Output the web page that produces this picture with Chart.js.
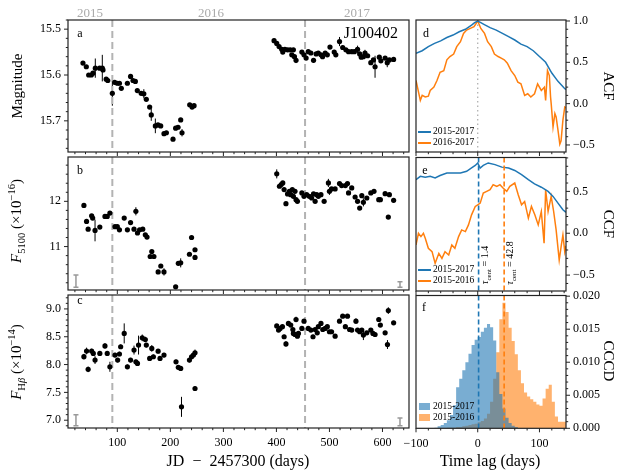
<!DOCTYPE html>
<html>
<head>
<meta charset="utf-8">
<script src="https://cdn.jsdelivr.net/npm/chart.js@4.4.1/dist/chart.umd.min.js"></script>
<style>
  body { margin: 0; background: #fff; font-family: "Liberation Serif", serif; }
  #page { position: relative; width: 622px; height: 476px; overflow: hidden; }
  #page canvas { position: absolute; left: 0; top: 0; }
  .t { position: absolute; white-space: nowrap; line-height: 1; color: #000; }
  .c { transform: translate(-50%, -50%); }
  .up { transform: translate(-50%, -50%) rotate(-90deg); }
  .down { transform: translate(-50%, -50%) rotate(90deg); }
  sub, sup { font-size: 70%; line-height: 0; }
  .leg { position: absolute; font-size: 9.5px; line-height: 1; white-space: nowrap; }
  .leg i { display: inline-block; width: 13px; height: 1.6px; vertical-align: middle; margin-right: 2px; }
  .leg b { display: inline-block; width: 11px; height: 7px; vertical-align: middle; margin-right: 3px; }
</style>
</head>
<body>
<div id="page">
  <canvas id="pa" width="622" height="476"></canvas>
  <canvas id="pb" width="622" height="476"></canvas>
  <canvas id="pc" width="622" height="476"></canvas>
  <canvas id="pd" width="622" height="476"></canvas>
  <canvas id="pe" width="622" height="476"></canvas>
  <canvas id="pf" width="622" height="476"></canvas>

  <div class="t c" style="left:90px;top:12px;font-size:13px;color:#aaa">2015</div>
  <div class="t c" style="left:211px;top:12px;font-size:13px;color:#aaa">2016</div>
  <div class="t c" style="left:357px;top:12px;font-size:13px;color:#aaa">2017</div>

  <div class="t c" style="left:80px;top:33px;font-size:12px">a</div>
  <div class="t c" style="left:80px;top:170px;font-size:12px">b</div>
  <div class="t c" style="left:80px;top:300px;font-size:12px">c</div>
  <div class="t c" style="left:426px;top:33px;font-size:12px">d</div>
  <div class="t c" style="left:425px;top:170px;font-size:12px">e</div>
  <div class="t c" style="left:424px;top:307px;font-size:12px">f</div>
  <div class="t" style="right:224px;top:25px;font-size:16px">J100402</div>

  <div class="t up" style="left:17px;top:86px;font-size:15px">Magnitude</div>
  <div class="t up" style="left:16px;top:221px;font-size:15px"><i>F</i><sub>5100</sub> (×10<sup>−16</sup>)</div>
  <div class="t up" style="left:16px;top:362px;font-size:15px"><i>F</i><sub>H<i>β</i></sub> (×10<sup>−14</sup>)</div>
  <div class="t down" style="left:608px;top:86px;font-size:15px">ACF</div>
  <div class="t down" style="left:608px;top:224px;font-size:15px">CCF</div>
  <div class="t down" style="left:608px;top:361px;font-size:15px">CCCD</div>
  <div class="t c" style="left:238px;top:461px;font-size:16px">JD &nbsp;−&nbsp; 2457300 (days)</div>
  <div class="t c" style="left:490px;top:461px;font-size:16px">Time lag (days)</div>

  <div class="t up" style="left:485px;top:265px;font-size:10px"><i>τ</i><sub>cent</sub> = 1.4</div>
  <div class="t up" style="left:510px;top:263px;font-size:10px"><i>τ</i><sub>cent</sub> = 42.8</div>

  <div class="leg" style="left:418px;top:127px"><i style="background:#1f77b4"></i>2015-2017</div>
  <div class="leg" style="left:418px;top:138px"><i style="background:#ff7f0e"></i>2016-2017</div>
  <div class="leg" style="left:418px;top:265px"><i style="background:#1f77b4"></i>2015-2017</div>
  <div class="leg" style="left:418px;top:276px"><i style="background:#ff7f0e"></i>2015-2016</div>
  <div class="leg" style="left:419px;top:402px"><b style="background:rgba(31,119,180,0.6)"></b>2015-2017</div>
  <div class="leg" style="left:419px;top:413px"><b style="background:rgba(255,127,14,0.6)"></b>2015-2016</div>
</div>
<script>
// ---- panel a: photometric magnitude ----
const magDays15 = [35.2,41.5,46,51,54,58.5,66.7,71.7,73,79,82,90.6,95,100,104,107.5,119,125,129.6,134,137.7,145,150,154.7,161,164,171.7,176.7,181.8,188,192.5,205,210,214.5,219.5,222,236.5,241,244.7];
const mag15 = [15.574,15.582,15.600,15.600,15.596,15.585,15.585,15.585,15.589,15.609,15.612,15.640,15.616,15.618,15.618,15.629,15.618,15.603,15.612,15.614,15.634,15.640,15.641,15.653,15.670,15.687,15.711,15.709,15.711,15.728,15.726,15.740,15.716,15.714,15.698,15.726,15.665,15.670,15.667];
const magErr15 = [.004,.004,.004,.004,.004,.021,.004,.029,.004,.004,.004,.027,.004,.004,.004,.004,.004,.004,.004,.004,.004,.004,.010,.004,.004,.013,.016,.004,.004,.004,.004,.004,.004,.004,.004,.008,.004,.004,.004];
const magDays16 = [395.6,400.6,405,410,412,416,421,426,429,432,434,437,448,452,456,460,465,470,475,479,484,487,492,496,501,509,512,519,525,531,536,542,547,553,557,560,564,567,572,578,583,586,594,597,605,609,613,621];
const mag16 = [15.525,15.531,15.538,15.544,15.550,15.544,15.545,15.545,15.556,15.545,15.560,15.568,15.550,15.556,15.563,15.549,15.552,15.568,15.554,15.552,15.556,15.560,15.552,15.556,15.539,15.550,15.556,15.527,15.540,15.545,15.549,15.549,15.549,15.544,15.554,15.561,15.560,15.552,15.558,15.573,15.567,15.582,15.561,15.569,15.563,15.573,15.567,15.566];
const magErr16 = [.004,.004,.004,.004,.004,.004,.004,.004,.004,.004,.004,.006,.004,.004,.004,.004,.004,.005,.004,.004,.004,.004,.004,.004,.004,.004,.004,.010,.004,.004,.004,.004,.004,.008,.004,.004,.004,.007,.004,.004,.004,.024,.004,.004,.004,.010,.004,.004];

// ---- panel b: 5100 continuum ----
const contDays15 = [37,42,45,51.6,53.5,58,67,76.7,81,86,95.6,100,104,113,119,125,131.5,135,138,142,148,152.8,156,162,165,169,177,182,188,210,215,219.5,236,240,246.5,246.5];
const cont15 = [11.91,11.556,11.385,11.68,11.63,11.356,11.43,11.667,11.667,11.74,11.44,11.44,11.37,11.63,11.37,11.53,11.385,11.78,11.30,11.37,11.385,11.26,11.21,10.78,10.89,10.78,10.44,10.57,10.44,10.11,10.63,10.64,10.83,11.20,10.93,10.76];
const contErr15 = [.035,.035,.035,.035,.035,.24,.035,.035,.035,.035,.035,.035,.035,.035,.035,.035,.035,.09,.035,.035,.035,.035,.035,.035,.035,.035,.035,.035,.08,.035,.05,.10,.035,.035,.035,.035];
const contDays16 = [400.6,405.7,409,412,414.5,418,421,424.5,427,430,432,435,437,439.6,448,452,457,462,466.5,470,473,476,479,484,490,498,500,504,510.7,519,523,530,534,536,542,548.4,553,557,561,564,570.4,578,584,593,596,605,611,613,621];
const cont16 = [12.607,12.333,12.37,12.407,12.26,11.948,12.163,12.222,12.148,12.26,12.11,12.222,12.037,12.0,12.185,12.11,12.148,12.11,12.074,12.163,12.0,12.148,12.11,12.148,12.0,12.407,12.222,12.274,12.274,12.393,12.348,12.348,12.393,12.185,12.296,12.096,12.0,11.85,12.126,11.978,12.074,12.185,12.222,12.037,12.037,12.17,11.652,12.148,12.022];
const contErr16 = [.10,.035,.035,.035,.035,.035,.035,.035,.035,.035,.035,.035,.035,.035,.035,.035,.035,.035,.035,.035,.035,.035,.035,.035,.035,.09,.08,.035,.035,.035,.035,.035,.035,.035,.035,.035,.035,.035,.035,.09,.035,.035,.035,.035,.035,.035,.035,.035,.035];
const contSysDays = [22, 633];
const contSys = [10.235, 10.16];
const contSysErr = [0.135, 0.06];

// ---- panel c: H-beta ----
const hbDays15 = [37,42,45,51.6,54.7,58,67,76.7,81,86,95.6,100.6,104,106.3,113,119,125,131.5,135,138,140,147,152.8,154.7,161,165,168,177,180.5,188,210.7,215,219.5,221,236,240,243.4,246.5,246.5];
const hb15 = [8.142,8.244,7.914,8.244,8.20,8.08,8.20,8.334,8.20,7.96,8.17,8.08,8.19,8.32,8.56,7.96,8.08,8.26,8.05,8.02,8.35,8.48,8.45,8.35,8.11,8.29,8.14,8.24,8.11,8.17,8.05,7.95,7.93,7.24,8.08,8.14,8.17,8.21,7.57];
const hbErr15 = [.05,.06,.05,.04,.04,.07,.04,.05,.04,.09,.04,.04,.04,.04,.18,.04,.04,.08,.04,.04,.17,.06,.05,.04,.04,.06,.04,.04,.04,.04,.04,.04,.04,.18,.04,.04,.04,.06,.04];
const hbDays16 = [400.6,404,407,411.3,414.5,418,422.6,427,431,432,435,437,439.6,441.5,448,452,460,465,469,473,477,479,484,487.4,492,496,500,504,510.7,519,525,530,534,538,542,550,553,557,561,564,570.4,578,582,586,593,596,605,609.4,611,621];
const hb16 = [8.694,8.62,8.65,8.68,8.50,8.37,8.74,8.71,8.63,8.56,8.54,8.81,8.51,8.56,8.65,8.78,8.65,8.62,8.50,8.63,8.57,8.68,8.74,8.63,8.65,8.68,8.59,8.59,8.51,8.78,8.87,8.68,8.87,8.63,8.62,8.78,8.62,8.59,8.62,8.53,8.57,8.62,8.56,8.54,8.81,8.71,8.57,8.36,8.97,8.75];
const hbErr16 = [.035,.035,.035,.035,.035,.05,.035,.035,.035,.035,.035,.05,.035,.035,.035,.035,.035,.035,.035,.035,.035,.035,.035,.035,.035,.035,.035,.035,.035,.035,.035,.035,.035,.035,.035,.05,.035,.035,.035,.09,.035,.035,.035,.035,.035,.035,.035,.08,.06,.035];
const hbSysDays = [22, 633];
const hbSys = [7.0, 6.97];
const hbSysErr = [0.10, 0.07];

const seasonCuts = [90.6, 454];

// ---- panel d: ACF ----
const acfLag1517 = [-100,-90,-80,-70,-60,-50,-40,-30,-20,-10,-5,0,5,10,20,30,40,50,60,70,80,90,100,110,120,130,140,143];
const acf1517 = [0.61,0.64,0.69,0.73,0.76,0.80,0.83,0.87,0.90,0.95,0.98,1.0,0.98,0.96,0.92,0.89,0.85,0.81,0.77,0.72,0.69,0.64,0.57,0.50,0.37,0.27,0.19,0.17];
const acfLag1617 = [-100,-93,-90,-85,-80,-77,-71,-66,-61,-55,-50,-45,-39,-34,-28,-23,-18,-12,-6,0,5,11,16,22,27,33,38,43,48,54,60,65,70,76,81,86,92,97,103,108,110,113,116,118,119,122,125,127,130,133,135,138,141,143];
const acf1617 = [0.28,0.04,0.10,0.08,0.09,0.16,0.20,0.28,0.38,0.40,0.53,0.57,0.60,0.69,0.75,0.85,0.89,0.91,0.93,1.0,0.91,0.85,0.75,0.69,0.60,0.57,0.55,0.53,0.49,0.40,0.34,0.26,0.24,0.10,0.12,0.08,0.12,0.24,0.16,0.20,0.04,0.40,0.34,0.08,0.0,-0.28,-0.12,-0.16,-0.32,-0.49,-0.45,-0.20,-0.04,-0.05];

// ---- panel e: CCF ----
const ccfLag1517 = [-100,-93,-85,-77,-69,-61,-50,-39,-28,-18,-10,-4,0,4,9,17,28,39,50,60,71,82,92,103,114,122,130,138,143];
const ccf1517 = [0.64,0.68,0.67,0.68,0.66,0.69,0.72,0.72,0.72,0.74,0.78,0.81,0.84,0.78,0.81,0.84,0.82,0.79,0.78,0.75,0.70,0.64,0.59,0.55,0.50,0.44,0.36,0.28,0.25];
const ccfLag1516 = [-100,-96,-92,-88,-85,-80,-74,-69,-63,-58,-53,-47,-42,-37,-31,-26,-20,-15,-10,-4,0,4,9,14.5,20,25,31,36,41,47,52,60,65.6,71,76,82,87,92.5,98,103,107.5,110,114,119,123,127,132,135.5,138,141,143];
const ccf1516 = [-0.14,0.0,-0.04,0.0,-0.06,-0.18,-0.22,-0.36,-0.24,-0.30,-0.22,-0.26,-0.14,-0.18,-0.04,0.04,0.02,0.10,0.22,0.32,0.34,0.36,0.48,0.50,0.52,0.58,0.56,0.58,0.54,0.50,0.56,0.60,0.46,0.34,0.38,0.18,0.32,0.22,0.10,0.26,-0.12,0.52,0.26,0.44,0.26,0.04,-0.32,-0.14,-0.02,-0.22,-0.15];
const tauCent = [1.4, 42.8];

// ---- panel f: CCCD histograms (bin centres, 5-day bins) ----
const lagBins = [-72.5,-67.5,-62.5,-57.5,-52.5,-47.5,-42.5,-37.5,-32.5,-27.5,-22.5,-17.5,-12.5,-7.5,-2.5,2.5,7.5,12.5,17.5,22.5,27.5,32.5,37.5,42.5,47.5,52.5,57.5,62.5,67.5,72.5,77.5,82.5,87.5,92.5,97.5,102.5,107.5,112.5,117.5,122.5,127.5,132.5,137.5,142.5,147.5];
const cccd1517 = [0,0.0001,0.0003,0.0005,0.0008,0.0012,0.0020,0.0035,0.0062,0.0075,0.0088,0.0100,0.0113,0.0126,0.0134,0.0138,0.0146,0.0152,0.0158,0.0153,0.0133,0.0085,0.0052,0.0030,0.0016,0.0008,0.0004,0.0002,0,0,0,0,0,0,0,0,0,0,0,0,0,0,0,0,0];
const cccd1516 = [0,0,0,0,0,0.0001,0.0001,0.0001,0.0002,0.0002,0.0003,0.0004,0.0005,0.0006,0.0007,0.0009,0.0011,0.0015,0.0022,0.0040,0.0075,0.0115,0.0165,0.0190,0.0176,0.0152,0.0132,0.0112,0.0088,0.0068,0.0054,0.0048,0.0044,0.0040,0.0036,0.0034,0.0045,0.0060,0.0066,0.0040,0.0018,0.0010,0.0010,0.0010,0.0010];

const BLUE = '#1f77b4', ORANGE = '#ff7f0e';
const FONT = { family: 'Liberation Serif', size: 12 };

function pts(xs, ys) { return xs.map((x, i) => ({ x, y: ys[i] })); }
const fmt0 = v => v.toFixed(0).replace('-', '\u2212');
const fmt1 = v => v.toFixed(1).replace('-', '\u2212');
const fmt3 = v => v.toFixed(3);

// per-panel extras (ticks, reference lines), looked up by canvas id
const extras = {};

function minorValues(min, max, step, majors) {
  const out = [];
  for (let k = Math.ceil(min / step - 1e-9); k * step <= max + 1e-12; k++) {
    const v = k * step;
    if (!majors.some(m => Math.abs(m - v) < step / 10)) out.push(v);
  }
  return out;
}

// vertical error bars from dataset.errors
const errorBars = {
  id: 'errorBars',
  beforeDatasetsDraw(chart) {
    const { ctx } = chart;
    const xs = chart.scales.x, ys = chart.scales.y;
    chart.data.datasets.forEach(ds => {
      if (!ds.errors) return;
      ctx.save();
      ctx.strokeStyle = ds.errorColor || '#000';
      ctx.lineWidth = ds.errorWidth || 1;
      ctx.beginPath();
      ds.data.forEach((p, j) => {
        const px = xs.getPixelForValue(p.x);
        const y1 = ys.getPixelForValue(p.y - ds.errors[j]);
        const y2 = ys.getPixelForValue(p.y + ds.errors[j]);
        ctx.moveTo(px, y1); ctx.lineTo(px, y2);
        if (ds.cap) {
          ctx.moveTo(px - ds.cap, y1); ctx.lineTo(px + ds.cap, y1);
          ctx.moveTo(px - ds.cap, y2); ctx.lineTo(px + ds.cap, y2);
        }
      });
      ctx.stroke();
      ctx.restore();
    });
  }
};

function drawVLines(chart, lines) {
  const { ctx, chartArea: a } = chart;
  const xs = chart.scales.x;
  lines.forEach(l => {
    const p = xs.getPixelForValue(l.x);
    ctx.save();
    ctx.strokeStyle = l.color;
    ctx.lineWidth = l.width;
    ctx.setLineDash(l.dash);
    ctx.beginPath(); ctx.moveTo(p, a.top); ctx.lineTo(p, a.bottom); ctx.stroke();
    ctx.restore();
  });
}

const vLines = {
  id: 'vLines',
  beforeDatasetsDraw(chart) {
    const e = extras[chart.canvas.id];
    if (e.lines) drawVLines(chart, e.lines.filter(l => !l.front));
  },
  afterDatasetsDraw(chart) {
    const e = extras[chart.canvas.id];
    if (e.lines) drawVLines(chart, e.lines.filter(l => l.front));
  }
};

// frame plus outward major/minor ticks
const frameTicks = {
  id: 'frameTicks',
  afterDraw(chart) {
    const o = extras[chart.canvas.id];
    const { ctx, chartArea: a } = chart;
    const xs = chart.scales.x, ys = chart.scales.y;
    const side = o.ySide === 'right' ? a.right : a.left;
    const dir = o.ySide === 'right' ? 1 : -1;
    ctx.save();
    ctx.strokeStyle = '#222';
    ctx.lineWidth = 1;
    ctx.beginPath();
    const xt = (v, len) => { const p = xs.getPixelForValue(v); ctx.moveTo(p, a.bottom); ctx.lineTo(p, a.bottom + len); };
    const yt = (v, len) => { const p = ys.getPixelForValue(v); ctx.moveTo(side, p); ctx.lineTo(side + dir * len, p); };
    o.xMajor.forEach(v => xt(v, 4));
    minorValues(xs.min, xs.max, o.xMinor, o.xMajor).forEach(v => xt(v, 2.2));
    o.yMajor.forEach(v => yt(v, 4));
    minorValues(ys.min, ys.max, o.yMinor, o.yMajor).forEach(v => yt(v, 2.2));
    ctx.stroke();
    ctx.lineWidth = 1.2;
    ctx.strokeRect(a.left, a.top, a.right - a.left, a.bottom - a.top);
    ctx.restore();
  }
};

// axis boxes get a fixed size so the plot areas line up; labels are clipped to that box
const Y_W = 50, X_H = 24;
function axis(pos, min, max, majors, fmt, show, reverse) {
  return {
    type: 'linear', position: pos, min, max, reverse: !!reverse, offset: false,
    afterBuildTicks: s => { s.ticks = majors.map(v => ({ value: v })); },
    afterFit: s => { if (pos === 'bottom') s.height = show ? X_H : 0; else s.width = Y_W; },
    grid: { display: false, drawTicks: false },
    border: { display: false },
    ticks: { display: show, autoSkip: false, maxRotation: 0, padding: pos === 'bottom' ? 8 : 7,
             color: '#000', font: FONT, callback: v => fmt(v) }
  };
}

function panel(id, box, datasets, x, y, ex) {
  extras[id] = ex;
  const left = ex.ySide === 'left' ? box[0] - Y_W : box[0];
  const right = ex.ySide === 'right' ? 622 - box[2] - Y_W : 622 - box[2];
  const bottom = 476 - box[3] - (ex.xLabels ? X_H : 0);
  return new Chart(document.getElementById(id), {
    type: 'scatter',
    data: { datasets },
    options: {
      responsive: false, animation: false, events: [],
      layout: { padding: { left, top: box[1], right, bottom } },
      scales: { x, y },
      plugins: { legend: { display: false }, tooltip: { enabled: false } }
    },
    plugins: [errorBars, vLines, frameTicks]
  });
}

const dayMajor = [100, 200, 300, 400, 500, 600];
const lagMajor = [-100, 0, 100];
const cutLines = seasonCuts.map(x => ({ x, color: '#b3b3b3', width: 2, dash: [7, 4] }));
const tauLines = [
  { x: tauCent[0], color: BLUE, width: 1.6, dash: [5, 3], front: true },
  { x: tauCent[1], color: ORANGE, width: 1.6, dash: [5, 3], front: true }
];
const dot = { pointRadius: 2.6, pointBackgroundColor: '#000', pointBorderWidth: 0, showLine: false };

// a
panel('pa', [68, 20, 409, 152], [
  { ...dot, data: pts(magDays15, mag15), errors: magErr15 },
  { ...dot, data: pts(magDays16, mag16), errors: magErr16 }
], axis('bottom', 7, 650, dayMajor, fmt0, false),
   axis('left', 15.48, 15.768, [15.5, 15.6, 15.7], fmt1, true, true),
   { xMajor: dayMajor, xMinor: 20, yMajor: [15.5, 15.6, 15.7], yMinor: 0.02, ySide: 'left', lines: cutLines });

// b
panel('pb', [68, 157, 409, 290], [
  { ...dot, data: pts(contDays15, cont15), errors: contErr15 },
  { ...dot, data: pts(contDays16, cont16), errors: contErr16 },
  { pointRadius: 0, showLine: false, data: pts(contSysDays, contSys), errors: contSysErr, errorColor: '#999', errorWidth: 1.5, cap: 2.5 }
], axis('bottom', 7, 650, dayMajor, fmt0, false),
   axis('left', 10.04, 12.98, [11, 12], fmt0, true),
   { xMajor: dayMajor, xMinor: 20, yMajor: [11, 12], yMinor: 0.2, ySide: 'left', lines: cutLines });

// c
panel('pc', [68, 295, 409, 428], [
  { ...dot, data: pts(hbDays15, hb15), errors: hbErr15 },
  { ...dot, data: pts(hbDays16, hb16), errors: hbErr16 },
  { pointRadius: 0, showLine: false, data: pts(hbSysDays, hbSys), errors: hbSysErr, errorColor: '#999', errorWidth: 1.5, cap: 2.5 }
], axis('bottom', 7, 650, dayMajor, fmt0, true),
   axis('left', 6.86, 9.25, [7.0, 7.5, 8.0, 8.5, 9.0], fmt1, true),
   { xMajor: dayMajor, xMinor: 20, yMajor: [7.0, 7.5, 8.0, 8.5, 9.0], yMinor: 0.1, ySide: 'left', lines: cutLines, xLabels: true });

const line = c => ({ showLine: true, pointRadius: 0, borderColor: c, borderWidth: 1.5, tension: 0, fill: false });
const hist = c => ({ showLine: true, stepped: 'middle', pointRadius: 0, borderWidth: 0, backgroundColor: c, fill: 'origin' });

// d
panel('pd', [416, 20, 566, 152], [
  { ...line(BLUE), data: pts(acfLag1517, acf1517) },
  { ...line(ORANGE), data: pts(acfLag1617, acf1617) }
], axis('bottom', -100, 143, lagMajor, fmt0, false),
   axis('right', -0.585, 1.012, [-0.5, 0, 0.5, 1.0], fmt1, true),
   { xMajor: lagMajor, xMinor: 20, yMajor: [-0.5, 0, 0.5, 1.0], yMinor: 0.1, ySide: 'right',
     lines: [{ x: 0, color: '#aaa', width: 1.2, dash: [1.5, 3] }] });

// e
panel('pe', [416, 157.5, 566, 291], [
  { ...line(BLUE), data: pts(ccfLag1517, ccf1517) },
  { ...line(ORANGE), data: pts(ccfLag1516, ccf1516) }
], axis('bottom', -100, 143, lagMajor, fmt0, false),
   axis('right', -0.69, 0.905, [-0.5, 0, 0.5], fmt1, true),
   { xMajor: lagMajor, xMinor: 20, yMajor: [-0.5, 0, 0.5], yMinor: 0.1, ySide: 'right', lines: tauLines });

// f
panel('pf', [416, 295.5, 566, 428.3], [
  { ...hist('rgba(31,119,180,0.6)'), data: pts(lagBins, cccd1517) },
  { ...hist('rgba(255,127,14,0.6)'), data: pts(lagBins, cccd1516) }
], axis('bottom', -100, 143, lagMajor, fmt0, true),
   axis('right', 0, 0.0201, [0, 0.005, 0.010, 0.015, 0.020], fmt3, true),
   { xMajor: lagMajor, xMinor: 20, yMajor: [0, 0.005, 0.010, 0.015, 0.020], yMinor: 0.001, ySide: 'right', lines: tauLines, xLabels: true });
</script>
</body>
</html>
